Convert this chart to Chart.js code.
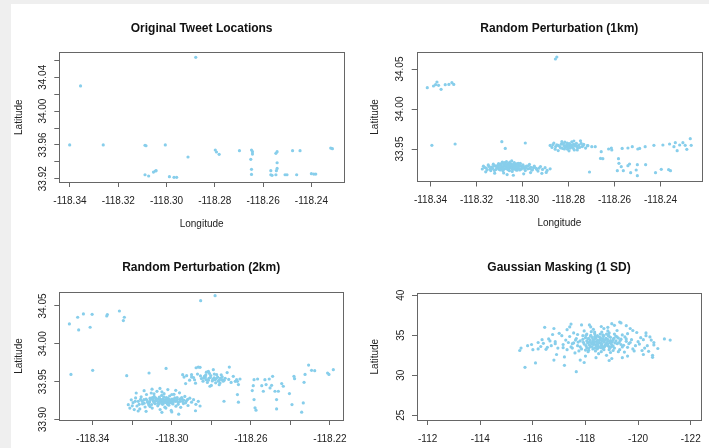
<!DOCTYPE html>
<html>
<head>
<meta charset="utf-8">
<script src="https://cdn.jsdelivr.net/npm/chart.js@4.4.0/dist/chart.umd.min.js"></script>
<style>
  html, body { margin: 0; padding: 0; background: #efefef; overflow: hidden; }
  #page { position: relative; width: 709px; height: 448px; }
  #white { position: absolute; left: 11px; top: 4px; right: 0; bottom: 0; background: #ffffff; }
  canvas { position: absolute; left: 0; top: 0; }
</style>
</head>
<body>
<div id="page">
  <div id="white"></div>
  <canvas id="c1" width="709" height="448"></canvas>
  <canvas id="c2" width="709" height="448"></canvas>
  <canvas id="c3" width="709" height="448"></canvas>
  <canvas id="c4" width="709" height="448"></canvas>
</div>
<script>
// ---------- Titles ----------
const TITLES = ["Original Tweet Locations", "Random Perturbation (1km)", "Random Perturbation (2km)", "Gaussian Masking (1 SD)"];
const X_TITLE = "Longitude";
const Y_TITLE = "Latitude";

// ---------- Tick values & labels ----------
const P1_XTICKS = [-118.34, -118.32, -118.30, -118.28, -118.26, -118.24];
const P1_XLABELS = ["-118.34", "-118.32", "-118.30", "-118.28", "-118.26", "-118.24"];
const P1_YTICKS = [33.92, 33.94, 33.96, 33.98, 34.00, 34.02, 34.04, 34.06];
const P1_YLABELS = ["33.92", "", "33.96", "", "34.00", "", "34.04", ""];

const P2_XTICKS = [-118.34, -118.32, -118.30, -118.28, -118.26, -118.24];
const P2_XLABELS = ["-118.34", "-118.32", "-118.30", "-118.28", "-118.26", "-118.24"];
const P2_YTICKS = [33.95, 34.00, 34.05];
const P2_YLABELS = ["33.95", "34.00", "34.05"];

const P3_XTICKS = [-118.34, -118.32, -118.30, -118.28, -118.26, -118.24, -118.22];
const P3_XLABELS = ["-118.34", "", "-118.30", "", "-118.26", "", "-118.22"];
const P3_YTICKS = [33.90, 33.95, 34.00, 34.05];
const P3_YLABELS = ["33.90", "33.95", "34.00", "34.05"];

const P4_XTICKS = [-112, -114, -116, -118, -120, -122];
const P4_XLABELS = ["-112", "-114", "-116", "-118", "-120", "-122"];
const P4_YTICKS = [25, 30, 35, 40];
const P4_YLABELS = ["25", "30", "35", "40"];

// ---------- Data: [longitude, latitude] ----------
const P1_PTS = [
[-118.2879,34.0637],[-118.3356,34.0298],[-118.3401,33.9600],[-118.3262,33.9600],[-118.3089,33.9596],[-118.3085,33.9590],
[-118.3005,33.9600],[-118.2911,33.9457],[-118.3089,33.9247],[-118.3074,33.9232],[-118.3054,33.9279],[-118.3046,33.9291],
[-118.3043,33.9295],[-118.2988,33.9224],[-118.2969,33.9216],[-118.2958,33.9216],[-118.2798,33.9540],[-118.2793,33.9516],
[-118.2782,33.9488],[-118.2698,33.9532],[-118.2648,33.9540],[-118.2644,33.9520],[-118.2644,33.9492],[-118.2651,33.9429],
[-118.2648,33.9311],[-118.2648,33.9251],[-118.2568,33.9295],[-118.2568,33.9247],[-118.2563,33.9240],[-118.2547,33.9247],
[-118.2542,33.9520],[-118.2547,33.9500],[-118.2542,33.9389],[-118.2542,33.9322],[-118.2545,33.9295],[-118.2509,33.9247],
[-118.2501,33.9247],[-118.2478,33.9532],[-118.2447,33.9532],[-118.2461,33.9247],[-118.2400,33.9259],[-118.2390,33.9255],
[-118.2382,33.9255],[-118.2320,33.9563],[-118.2313,33.9555]
];

const P2_PTS = [
// north-west group
[-118.3414,34.0267],[-118.3387,34.0288],[-118.3378,34.0304],[-118.3372,34.0338],[-118.3365,34.0296],[-118.3354,34.0246],
[-118.3336,34.0304],[-118.3320,34.0308],[-118.3307,34.0329],[-118.3299,34.0308],
[-118.2857,34.0625],[-118.2851,34.0650],
[-118.3394,33.9546],[-118.3293,33.9563],[-118.3090,33.9592],[-118.3075,33.9508],[-118.2988,33.9575],
// main cluster
[-118.3170,33.9285],[-118.3158,33.9262],[-118.3149,33.9301],[-118.3141,33.9248],[-118.3135,33.9275],[-118.3127,33.9310],
[-118.3122,33.9232],[-118.3118,33.9289],[-118.3110,33.9262],[-118.3104,33.9318],[-118.3101,33.9244],[-118.3096,33.9296],
[-118.3092,33.9271],[-118.3088,33.9335],[-118.3085,33.9228],[-118.3081,33.9307],[-118.3077,33.9256],[-118.3074,33.9289],
[-118.3070,33.9342],[-118.3068,33.9273],[-118.3065,33.9312],[-118.3062,33.9240],[-118.3059,33.9298],[-118.3056,33.9325],
[-118.3053,33.9265],[-118.3050,33.9283],[-118.3047,33.9351],[-118.3045,33.9219],[-118.3042,33.9303],[-118.3039,33.9277],
[-118.3036,33.9330],[-118.3033,33.9251],[-118.3030,33.9292],[-118.3027,33.9314],[-118.3024,33.9236],[-118.3021,33.9269],
[-118.3018,33.9305],[-118.3014,33.9287],[-118.3010,33.9322],[-118.3006,33.9248],[-118.3002,33.9279],[-118.2998,33.9301],
[-118.2993,33.9262],[-118.2988,33.9230],[-118.2983,33.9288],[-118.2977,33.9253],[-118.2970,33.9307],[-118.2964,33.9271],
[-118.2957,33.9240],[-118.2949,33.9285],[-118.2941,33.9259],[-118.2933,33.9224],[-118.2922,33.9280],[-118.2913,33.9245],
[-118.2902,33.9267],[-118.2893,33.9232],[-118.2880,33.9252],[-118.3080,33.9290],[-118.3066,33.9296],[-118.3072,33.9266],
[-118.3058,33.9280],[-118.3044,33.9290],[-118.3061,33.9259],[-118.3086,33.9281],[-118.3049,33.9310],[-118.3037,33.9265],
[-118.3076,33.9318],[-118.3093,33.9250],[-118.3029,33.9240],[-118.3055,33.9338],[-118.3113,33.9280],[-118.3019,33.9322],
[-118.3099,33.9306],[-118.3067,33.9180],[-118.3040,33.9172],[-118.2995,33.9190],[-118.3121,33.9198],[-118.2965,33.9205],
[-118.3160,33.9215],[-118.3082,33.9200],[-118.2897,33.9208],[-118.2916,33.9196],
[-118.3108,33.9295],[-118.3103,33.9270],[-118.3097,33.9238],[-118.3091,33.9318],[-118.3087,33.9262],[-118.3083,33.9245],
[-118.3079,33.9330],[-118.3073,33.9302],[-118.3069,33.9252],[-118.3064,33.9284],[-118.3060,33.9320],[-118.3057,33.9230],
[-118.3052,33.9300],[-118.3048,33.9262],[-118.3043,33.9245],[-118.3038,33.9312],[-118.3034,33.9282],[-118.3028,33.9268],
[-118.3023,33.9296],[-118.3017,33.9258],[-118.3012,33.9238],[-118.3008,33.9292],[-118.3003,33.9265],[-118.2996,33.9282],
[-118.2990,33.9250],[-118.2985,33.9270],[-118.2975,33.9290],[-118.2968,33.9258],[-118.2960,33.9238],[-118.2952,33.9268],
[-118.3130,33.9258],[-118.3125,33.9290],[-118.3115,33.9245],[-118.3138,33.9230],[-118.3146,33.9282],[-118.3154,33.9240],
[-118.3165,33.9270],[-118.3175,33.9250],[-118.2938,33.9245],[-118.2928,33.9262],
// second cluster
[-118.2880,33.9545],[-118.2872,33.9520],[-118.2864,33.9575],[-118.2858,33.9498],[-118.2851,33.9552],[-118.2845,33.9480],
[-118.2838,33.9530],[-118.2832,33.9560],[-118.2826,33.9508],[-118.2820,33.9541],[-118.2816,33.9585],[-118.2812,33.9519],
[-118.2808,33.9552],[-118.2804,33.9497],[-118.2800,33.9535],[-118.2797,33.9568],[-118.2793,33.9512],[-118.2790,33.9548],
[-118.2786,33.9590],[-118.2783,33.9525],[-118.2779,33.9557],[-118.2775,33.9489],[-118.2771,33.9540],[-118.2766,33.9571],
[-118.2761,33.9515],[-118.2755,33.9549],[-118.2748,33.9603],[-118.2741,33.9530],[-118.2734,33.9558],[-118.2726,33.9512],
[-118.2718,33.9542],[-118.2806,33.9575],[-118.2789,33.9530],[-118.2815,33.9530],[-118.2798,33.9478],[-118.2777,33.9600],
[-118.2829,33.9592],[-118.2762,33.9488],
[-118.2845,33.9545],[-118.2835,33.9515],[-118.2822,33.9565],[-118.2810,33.9540],[-118.2802,33.9515],[-118.2794,33.9560],
[-118.2787,33.9540],[-118.2780,33.9510],[-118.2772,33.9555],[-118.2764,33.9535],[-118.2752,33.9520],[-118.2745,33.9570],
[-118.2818,33.9500],[-118.2856,33.9530],[-118.2868,33.9555],[-118.2737,33.9540],
// east
[-118.2716,33.9542],[-118.2699,33.9529],[-118.2684,33.9529],[-118.2658,33.9467],[-118.2661,33.9383],[-118.2651,33.9379],
[-118.2626,33.9500],[-118.2612,33.9488],[-118.2614,33.9513],[-118.2567,33.9508],[-118.2542,33.9513],[-118.2523,33.9529],
[-118.2499,33.9500],[-118.2491,33.9508],[-118.2467,33.9529],[-118.2429,33.9546],[-118.2390,33.9550],[-118.2361,33.9563],
[-118.2342,33.9529],[-118.2336,33.9579],[-118.2328,33.9479],[-118.2303,33.9579],[-118.2293,33.9546],[-118.2286,33.9496],
[-118.2271,33.9629],[-118.2267,33.9546],[-118.2317,33.9550],
[-118.2709,33.9213],[-118.2583,33.9379],[-118.2588,33.9229],[-118.2571,33.9279],[-118.2562,33.9229],[-118.2542,33.9292],
[-118.2535,33.9313],[-118.2530,33.9204],[-118.2506,33.9238],[-118.2501,33.9304],[-118.2501,33.9167],[-118.2465,33.9304],
[-118.2422,33.9204],[-118.2397,33.9246],[-118.2365,33.9242],[-118.2357,33.9229],[-118.2581,33.9321]
];

const P3_PTS = [
// north-west group
[-118.3518,34.0263],[-118.3476,34.0351],[-118.3471,34.0184],[-118.3447,34.0395],[-118.3413,34.0219],[-118.3403,34.0390],
[-118.3329,34.0368],[-118.3326,34.0386],[-118.3265,34.0434],[-118.3245,34.0307],[-118.3240,34.0351],
[-118.2854,34.0570],[-118.2781,34.0636],
[-118.3510,33.9596],[-118.3400,33.9649],[-118.3228,33.9579],[-118.3115,33.9614],[-118.3029,33.9675],
// main cluster
[-118.3220,33.9195],[-118.3212,33.9150],[-118.3205,33.9260],[-118.3196,33.9222],[-118.3190,33.9131],[-118.3183,33.9285],
[-118.3176,33.9178],[-118.3170,33.9240],[-118.3162,33.9140],[-118.3155,33.9300],[-118.3148,33.9205],[-118.3141,33.9262],
[-118.3135,33.9165],[-118.3128,33.9330],[-118.3122,33.9228],[-118.3116,33.9190],[-118.3110,33.9281],[-118.3104,33.9350],
[-118.3099,33.9150],[-118.3094,33.9245],[-118.3089,33.9305],[-118.3084,33.9208],[-118.3080,33.9270],[-118.3075,33.9372],
[-118.3071,33.9181],[-118.3067,33.9233],[-118.3063,33.9296],[-118.3059,33.9132],[-118.3055,33.9255],[-118.3051,33.9318],
[-118.3047,33.9200],[-118.3043,33.9275],[-118.3039,33.9341],[-118.3035,33.9163],[-118.3031,33.9238],[-118.3027,33.9290],
[-118.3023,33.9215],[-118.3019,33.9262],[-118.3015,33.9188],[-118.3011,33.9310],[-118.3007,33.9242],[-118.3003,33.9120],
[-118.2999,33.9270],[-118.2994,33.9205],[-118.2989,33.9333],[-118.2984,33.9250],[-118.2979,33.9176],[-118.2973,33.9290],
[-118.2967,33.9225],[-118.2961,33.9352],[-118.2955,33.9160],[-118.2948,33.9268],[-118.2941,33.9210],[-118.2934,33.9305],
[-118.2926,33.9245],[-118.2918,33.9185],[-118.2909,33.9282],[-118.2900,33.9228],[-118.2890,33.9262],[-118.2878,33.9200],
[-118.2866,33.9240],[-118.2857,33.9178],[-118.3060,33.9250],[-118.3045,33.9235],[-118.3030,33.9262],[-118.3015,33.9248],
[-118.3000,33.9235],[-118.3072,33.9268],[-118.3086,33.9240],[-118.3020,33.9280],[-118.3052,33.9218],[-118.2992,33.9262],
[-118.3098,33.9288],[-118.3040,33.9300],[-118.3010,33.9220],[-118.3065,33.9205],[-118.2980,33.9240],[-118.3112,33.9230],
[-118.3130,33.9268],[-118.2960,33.9268],[-118.3150,33.9240],[-118.2945,33.9238],[-118.3130,33.9108],[-118.3050,33.9095],
[-118.2965,33.9070],[-118.2880,33.9115],[-118.3170,33.9112],[-118.3000,33.9100],[-118.3100,33.9400],[-118.3060,33.9410],
[-118.3020,33.9395],[-118.3140,33.9380],[-118.2980,33.9385],[-118.3180,33.9350],
[-118.3125,33.9250],[-118.3118,33.9212],[-118.3108,33.9262],[-118.3102,33.9198],[-118.3095,33.9270],[-118.3090,33.9225],
[-118.3082,33.9285],[-118.3078,33.9250],[-118.3070,33.9215],[-118.3062,33.9275],[-118.3058,33.9240],[-118.3050,33.9262],
[-118.3044,33.9210],[-118.3037,33.9252],[-118.3033,33.9225],[-118.3026,33.9245],[-118.3021,33.9200],[-118.3016,33.9268],
[-118.3012,33.9232],[-118.3005,33.9258],[-118.2998,33.9215],[-118.2990,33.9240],[-118.2985,33.9285],[-118.2975,33.9255],
[-118.2968,33.9200],[-118.2958,33.9240],[-118.2950,33.9290],[-118.2940,33.9255],[-118.2930,33.9220],[-118.2920,33.9265],
[-118.3140,33.9215],[-118.3158,33.9265],[-118.3165,33.9200],[-118.3185,33.9240],[-118.3200,33.9180],[-118.3090,33.9340],
[-118.3050,33.9365],[-118.3000,33.9330],[-118.3110,33.9170],[-118.3030,33.9150],
// second cluster
[-118.2945,33.9592],[-118.2938,33.9561],[-118.2925,33.9579],[-118.2900,33.9592],[-118.2877,33.9684],[-118.2866,33.9693],
[-118.2857,33.9689],[-118.2835,33.9570],[-118.2827,33.9526],[-118.2815,33.9636],[-118.2807,33.9439],[-118.2790,33.9658],
[-118.2781,33.9526],[-118.2773,33.9592],[-118.2756,33.9482],[-118.2746,33.9526],[-118.2709,33.9693],[-118.2689,33.9570],
[-118.2679,33.9504],[-118.2668,33.9504],[-118.2663,33.9461],[-118.2655,33.9535],
[-118.2850,33.9540],[-118.2842,33.9505],[-118.2830,33.9560],[-118.2820,33.9490],[-118.2812,33.9545],[-118.2803,33.9580],
[-118.2795,33.9510],[-118.2786,33.9550],[-118.2778,33.9485],[-118.2768,33.9560],[-118.2760,33.9520],[-118.2750,33.9590],
[-118.2740,33.9505],[-118.2730,33.9545],[-118.2720,33.9620],[-118.2712,33.9530],[-118.2700,33.9490],[-118.2870,33.9600],
[-118.2890,33.9555],[-118.2910,33.9520],[-118.2800,33.9450],[-118.2760,33.9460],[-118.2825,33.9625],[-118.2880,33.9480],
[-118.2930,33.9475],
[-118.2855,33.9575],[-118.2840,33.9545],[-118.2828,33.9590],[-118.2815,33.9520],[-118.2805,33.9555],[-118.2792,33.9530],
[-118.2785,33.9600],[-118.2775,33.9540],[-118.2765,33.9505],[-118.2755,33.9545],[-118.2745,33.9565],[-118.2735,33.9520],
[-118.2885,33.9525],[-118.2900,33.9560],[-118.2810,33.9610],
// east
[-118.2668,33.9329],[-118.2663,33.9228],[-118.2588,33.9447],[-118.2593,33.9382],[-118.2584,33.9263],[-118.2579,33.9154],
[-118.2574,33.9123],[-118.2584,33.9526],[-118.2566,33.9535],[-118.2529,33.9526],[-118.2523,33.9461],[-118.2507,33.9535],
[-118.2490,33.9570],[-118.2495,33.9452],[-118.2478,33.9373],[-118.2461,33.9373],[-118.2444,33.9474],[-118.2436,33.9439],
[-118.2405,33.9342],[-118.2470,33.9263],[-118.2470,33.9140],[-118.2392,33.9197],[-118.2382,33.9570],[-118.2379,33.9539],
[-118.2335,33.9219],[-118.2343,33.9096],[-118.2331,33.9491],[-118.2326,33.9596],[-118.2308,33.9719],[-118.2293,33.9649],
[-118.2277,33.9645],[-118.2212,33.9614],[-118.2205,33.9596],[-118.2183,33.9658],[-118.2736,33.9241],[-118.2672,33.9526],
[-118.2545,33.9447],[-118.2537,33.9373],[-118.2503,33.9417]
];

const P4_PTS = [
[-118.52,34.12],[-118.31,33.85],[-118.74,34.40],[-118.10,34.55],[-118.88,33.62],[-118.45,33.30],[-119.02,34.20],[-117.95,33.90],
[-118.66,35.05],[-118.20,34.88],[-119.21,33.95],[-117.80,34.30],[-118.40,34.65],[-118.95,34.75],[-118.05,33.45],[-119.10,33.40],
[-118.60,33.78],[-118.28,34.28],[-117.70,33.70],[-119.35,34.52],[-118.80,34.05],[-118.15,34.15],[-118.70,33.20],[-119.45,33.75],
[-117.55,34.05],[-118.35,35.20],[-118.90,35.30],[-118.00,34.70],[-119.15,34.90],[-117.85,33.30],[-118.55,34.45],[-118.25,33.60],
[-119.05,33.10],[-118.45,34.95],[-117.65,34.60],[-118.85,33.90],[-119.55,34.25],[-118.12,33.12],[-118.62,35.40],[-118.38,33.05],
[-119.30,33.20],[-117.45,33.55],[-118.78,34.62],[-118.05,35.15],[-119.60,33.50],[-117.40,34.85],[-118.48,33.62],[-118.95,34.35],
[-118.18,34.40],[-118.68,34.85],[-119.25,34.65],[-117.90,34.95],[-118.32,34.02],[-118.58,33.45],[-118.02,33.70],[-119.40,35.05],
[-118.72,33.55],[-118.42,34.25],[-118.88,35.00],[-117.75,33.05],[-119.70,34.10],[-118.22,35.45],[-118.95,32.85],[-118.10,32.95],
[-119.48,32.90],[-117.60,32.80],[-118.50,32.70],[-119.80,33.30],[-118.80,32.50],[-117.30,33.20],[-119.20,35.60],[-118.30,35.75],
[-117.95,35.55],[-118.70,35.85],[-117.55,35.30],[-119.60,35.20],[-117.25,34.40],[-120.00,34.20],[-119.90,33.70],[-120.10,34.70],
[-117.15,33.85],[-117.10,34.95],[-120.25,33.40],[-116.95,33.40],[-116.85,34.20],[-120.30,34.95],[-116.70,33.70],[-120.40,33.00],
[-116.60,34.55],[-116.50,33.25],[-120.50,34.40],[-116.40,34.00],[-120.20,32.60],[-116.30,33.60],[-116.90,32.60],[-117.20,32.30],
[-118.40,32.20],[-119.00,32.10],[-119.60,32.40],[-117.80,31.90],[-118.90,31.85],[-116.75,35.10],[-117.30,35.70],[-119.80,35.60],
[-120.60,33.80],[-116.20,34.10],[-116.00,33.20],[-115.80,33.70],[-115.55,33.40],[-115.50,33.10],[-115.70,31.00],[-116.10,31.55],
[-117.20,31.25],[-117.65,30.45],[-120.55,32.50],[-120.55,32.25],[-120.60,34.10],[-121.00,34.55],[-121.22,34.40],[-116.45,36.00],
[-117.85,36.30],[-118.15,36.30],[-118.85,36.00],[-119.10,36.25],[-119.30,36.65],[-119.35,36.55],[-119.55,36.20],[-118.60,36.10],
[-117.40,36.05],[-116.80,35.85],[-119.95,35.35],[-120.15,33.10],[-118.00,32.40],[-117.50,33.95],[-118.62,34.28],[-118.36,34.60],
[-118.84,34.50],[-118.15,33.80],[-119.05,34.45],[-118.48,33.95],[-118.70,34.15],[-118.26,34.72],[-118.92,33.40],[-119.35,33.85],
[-117.90,34.50],[-118.42,33.85],[-118.56,34.70],[-118.08,34.05],[-119.12,34.05],[-118.82,33.75],[-118.35,33.40],[-118.65,33.60],
[-117.72,34.15],[-119.50,34.80],[-118.20,35.00],
[-118.46,34.38],[-118.58,34.02],[-118.34,34.18],[-118.76,33.85],[-118.92,34.15],[-118.24,33.95],[-118.66,34.55],[-119.00,33.80],
[-118.12,34.62],[-118.52,33.55],[-118.84,34.28],[-118.40,33.72],[-119.16,34.30],[-118.70,34.95],[-118.30,34.42],[-118.98,33.55],
[-118.56,35.15],[-118.18,33.58],[-119.28,34.10],[-118.62,33.92],[-118.88,34.88],[-118.44,34.05],[-118.05,34.30],[-119.08,34.62],
[-118.74,33.72],[-118.50,34.82],[-118.28,33.30],[-119.40,33.55],[-117.92,34.12],[-118.66,33.35],[-119.20,34.80],[-118.36,34.88],
[-118.96,34.00],[-118.12,33.35],[-118.80,35.15],[-119.55,34.55],[-117.80,33.55],[-118.58,34.60],[-119.05,33.65],[-118.22,34.10],
[-118.72,34.38],[-118.46,33.45],[-119.32,34.35],[-117.62,34.40],[-118.90,33.20],[-118.02,35.00],[-119.65,33.95],[-117.50,33.40],
[-118.35,35.40],[-119.10,35.15],[-118.00,33.15],[-119.75,34.45],[-117.35,34.10],[-118.60,32.95],[-119.25,32.95],[-117.70,35.10],
[-118.85,35.55],[-120.05,33.90],[-117.15,33.45],[-116.85,33.95],[-120.20,34.45],[-116.65,34.30],[-119.85,33.05],[-117.00,35.25],
[-120.35,33.70],[-116.55,33.50],[-118.20,36.05],[-119.70,35.85],[-116.35,34.45],[-120.45,34.80],[-117.95,31.60],[-119.40,32.20],
[-116.20,33.30],[-115.95,33.85],[-120.75,33.35],[-116.80,31.90],[-120.30,35.30],[-117.45,36.40],[-119.00,36.45]
];

// ---------- Rendering ----------
Chart.defaults.font.family = '"Liberation Sans", Arial, Helvetica, sans-serif';
Chart.defaults.color = '#222';

const rPlugin = {
  id: 'rlabels',
  afterDraw(chart, args, opts) {
    const ctx = chart.ctx, ca = chart.chartArea, ys = chart.scales.y;
    ctx.save();
    ctx.strokeStyle = '#666';
    ctx.lineWidth = 1;
    ctx.strokeRect(Math.round(ca.left) + 0.5, Math.round(ca.top) + 0.5, Math.round(ca.right - ca.left), Math.round(ca.bottom - ca.top));
    ctx.fillStyle = '#222';
    ctx.font = '10px "Liberation Sans", Arial, sans-serif';
    ctx.textAlign = 'center';
    ctx.textBaseline = 'middle';
    opts.ticks.forEach((v, i) => {
      const lab = opts.labels[i];
      if (!lab) return;
      const py = ys.getPixelForValue(v);
      ctx.save();
      ctx.translate(ca.left - opts.offset, py);
      ctx.rotate(-Math.PI / 2);
      ctx.fillText(lab, 0, 0);
      ctx.restore();
    });
    ctx.restore();
  }
};

function makeChart(id, c) {
  return new Chart(document.getElementById(id), {
    type: 'scatter',
    data: { datasets: [{
      data: c.pts.map(p => ({ x: p[0], y: p[1] })),
      pointRadius: 1.6, pointHoverRadius: 1.6,
      pointBackgroundColor: '#87CEEB', pointBorderWidth: 0, borderWidth: 0
    }] },
    options: {
      responsive: false, animation: false, events: [],
      layout: { padding: c.pad },
      plugins: {
        legend: { display: false }, tooltip: { enabled: false },
        title: { display: true, text: c.title, fullSize: false, color: '#111',
                 font: { size: 12, weight: 'bold' }, padding: { top: c.tp[0], bottom: c.tp[1] } },
        rlabels: { ticks: c.yticks, labels: c.ylabels, offset: 16 }
      },
      scales: {
        x: {
          type: 'linear', min: c.xmin, max: c.xmax, reverse: !!c.reverse,
          afterBuildTicks: s => { s.ticks = c.xticks.map(v => ({ value: v })); },
          afterFit: s => { s.height = c.xh; },
          ticks: { autoSkip: false, maxRotation: 0, minRotation: 0, padding: 8, color: '#222',
                   font: { size: 10 }, callback: (v, i) => c.xlabels[i] },
          grid: { display: true, drawOnChartArea: false, drawTicks: true, tickLength: 5, color: '#666' },
          border: { display: false },
          title: { display: c.showX, text: X_TITLE, color: '#222', font: { size: 10 }, padding: { top: 0, bottom: 2 } }
        },
        y: {
          type: 'linear', min: c.ymin, max: c.ymax,
          afterBuildTicks: s => { s.ticks = c.yticks.map(v => ({ value: v })); },
          afterFit: s => { s.width = 48; },
          ticks: { display: false },
          grid: { display: true, drawOnChartArea: false, drawTicks: true, tickLength: 5, color: '#666' },
          border: { display: false },
          title: { display: true, text: Y_TITLE, color: '#222', font: { size: 10 }, padding: { top: c.ytp, bottom: 0 } }
        }
      }
    },
    plugins: [rPlugin]
  });
}

makeChart('c1', { title: TITLES[0], pts: P1_PTS,
  xticks: P1_XTICKS, xlabels: P1_XLABELS, yticks: P1_YTICKS, ylabels: P1_YLABELS,
  xmin: -118.3444, xmax: -118.2265, ymin: 33.9161, ymax: 34.0696,
  pad: { left: 11.3, right: 365, top: 4, bottom: 216 }, tp: [17.8, 16.1], xh: 50, showX: true, ytp: 1.7 });

makeChart('c2', { title: TITLES[1], pts: P2_PTS,
  xticks: P2_XTICKS, xlabels: P2_XLABELS, yticks: P2_YTICKS, ylabels: P2_YLABELS,
  xmin: -118.3460, xmax: -118.2220, ymin: 33.9094, ymax: 34.0709,
  pad: { left: 368.7, right: 7, top: 4, bottom: 216.5 }, tp: [17.8, 16.1], xh: 50, showX: true, ytp: 1 });

makeChart('c3', { title: TITLES[2], pts: P3_PTS,
  xticks: P3_XTICKS, xlabels: P3_XLABELS, yticks: P3_YTICKS, ylabels: P3_YLABELS,
  xmin: -118.3569, xmax: -118.2134, ymin: 33.8993, ymax: 34.0685,
  pad: { left: 11.3, right: 366, top: 240, bottom: 0 }, tp: [20.8, 16.8], xh: 28, showX: false, ytp: 1.7 });

makeChart('c4', { title: TITLES[3], pts: P4_PTS,
  xticks: P4_XTICKS, xlabels: P4_XLABELS, yticks: P4_YTICKS, ylabels: P4_YLABELS,
  xmin: -122.39, xmax: -111.595, reverse: true, ymin: 24.41, ymax: 40.25,
  pad: { left: 369, right: 7, top: 240, bottom: 0 }, tp: [20.8, 18.1], xh: 28, showX: false, ytp: 0 });
</script>
</body>
</html>
